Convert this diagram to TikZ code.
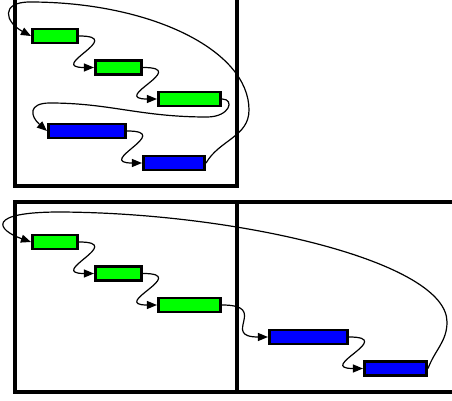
\documentclass[tikz,border=0pt]{standalone}
\usetikzlibrary{arrows.meta}
\begin{document}
\begin{tikzpicture}[x=1pt,y=1pt]
		\tikzstyle{task}=[rectangle,draw,line width=2.6pt,minimum height=14pt,inner sep=0pt]
		\tikzstyle{active}=[task,fill=green]
		\tikzstyle{waiting}=[task,fill=blue]
		\tikzstyle{frame}=[line width=3.2pt]
		\tikzstyle{hop}=[-{Triangle[length=10pt,width=8pt]},line width=1.2pt]

		\useasboundingbox (0,0) rectangle (452,-401);

		% upper panel
		\draw[frame] (15,5) -- (15,-186) -- (237,-186) -- (237,5);
		\node [active,minimum width=45.5pt] (g1) at (55,-36) {};
		\node [active,minimum width=46.5pt] (g2) at (118.5,-67.5) {};
		\node [active,minimum width=62.5pt] (g3) at (189.5,-99) {};
		\node [waiting,minimum width=77.5pt] (b1) at (87,-131) {};
		\node [waiting,minimum width=61.5pt] (b2) at (174,-163) {};

		\draw[hop] (g1.east) .. controls +(48,0) and +(-48,0) .. (g2.west);
		\draw[hop] (g2.east) .. controls +(48,0) and +(-48,0) .. (g3.west);
		\draw[hop] (g3.east) .. controls (235,-99) and (230,-117) .. (207,-117)
			.. controls (140,-117) and (110,-103) .. (50,-103)
			.. controls (28,-103) and (30,-116) .. (b1.west);
		\draw[hop] (b1.east) .. controls +(48,0) and +(-48,0) .. (b2.west);
		\draw[hop] (b2.east) to[out=60,in=-90] (249,-110)
			.. controls (249,-50) and (150,-2) .. (30,-2)
			.. controls (0,-2) and (5,-22) .. (g1.west);

		% lower panel
		\draw[frame] (460,-202) -- (15,-202) -- (15,-392) -- (460,-392);
		\draw[frame] (237,-202) -- (237,-392);
		\node [active,minimum width=45.5pt] (G1) at (55,-242) {};
		\node [active,minimum width=46.5pt] (G2) at (118.5,-273.5) {};
		\node [active,minimum width=62.5pt] (G3) at (189.5,-305) {};
		\node [waiting,minimum width=78.5pt] (B1) at (308.5,-337) {};
		\node [waiting,minimum width=62.5pt] (B2) at (395.5,-368.5) {};

		\draw[hop] (G1.east) .. controls +(48,0) and +(-48,0) .. (G2.west);
		\draw[hop] (G2.east) .. controls +(48,0) and +(-48,0) .. (G3.west);
		\draw[hop] (G3.east) .. controls +(48,0) and +(-48,0) .. (B1.west);
		\draw[hop] (B1.east) .. controls +(48,0) and +(-48,0) .. (B2.west);
		\draw[hop] (B2.east) to[out=70,in=-90] (447,-322)
			.. controls (447,-262) and (240,-213) .. (60,-212)
			.. controls (-15,-212) and (-3,-230) .. (G1.west);
\end{tikzpicture}
\end{document}
